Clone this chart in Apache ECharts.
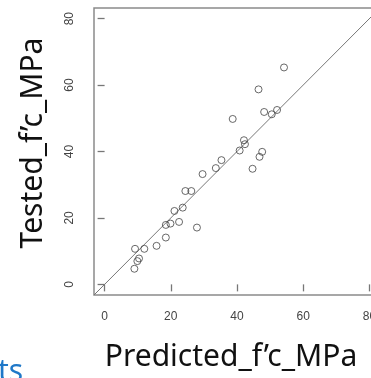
<!DOCTYPE html>
<html>
<head>
<meta charset="utf-8">
<script src="https://cdn.jsdelivr.net/npm/echarts@6/dist/echarts.min.js"></script>
<style>
  html, body { margin: 0; padding: 0; background: #fff; }
  #chart { width: 371px; height: 378px; }
</style>
</head>
<body>
<div id="chart"></div>
<script>
// predicted vs tested compressive strength (MPa)
const predicted = [54.2, 46.5, 38.7, 48.2, 50.5, 52.1, 42.1, 42.4, 40.8, 47.6,
  46.8, 44.7, 35.3, 33.6, 29.6, 24.4, 26.2, 23.6, 21.1, 22.5,
  18.5, 19.9, 27.9, 18.5, 15.7, 12.0, 9.2, 10.4, 9.9, 9.0];
const tested = [65.3, 58.7, 49.8, 51.9, 51.2, 52.5, 43.4, 42.2, 40.3, 39.9,
  38.4, 34.8, 37.4, 35.0, 33.2, 28.1, 28.1, 23.1, 22.1, 18.8,
  17.9, 18.3, 17.1, 14.1, 11.6, 10.7, 10.7, 7.8, 7.0, 4.7];
const tickValues = [0, 20, 40, 60, 80];
const axisMin = -3.2;
const axisMax = 83.2;
// y = x reference line runs across the whole axis range
const refLine = [axisMin, axisMax];

const chart = echarts.init(document.getElementById("chart"));

const axisCommon = {
  type: "value",
  min: axisMin,
  max: axisMax,
  axisLine: { show: false },
  splitLine: { show: false },
  axisTick: {
    show: true,
    inside: false,
    length: 7,
    customValues: tickValues,
    lineStyle: { color: "#777", width: 1.3 }
  },
  axisLabel: {
    customValues: tickValues,
    color: "#444",
    fontFamily: "Liberation Sans",
    fontSize: 12
  }
};

chart.setOption({
  animation: false,
  backgroundColor: "#fff",
  grid: {
    left: 94, top: 8, width: 286, height: 287,
    outerBoundsMode: "none",
    containLabel: false,
    show: true, borderColor: "#8a8a8a", borderWidth: 1.5,
    backgroundColor: "transparent"
  },
  xAxis: Object.assign({}, axisCommon, {
    axisLabel: Object.assign({}, axisCommon.axisLabel, { margin: 16 })
  }),
  yAxis: Object.assign({}, axisCommon, {
    axisLabel: Object.assign({}, axisCommon.axisLabel, { margin: 18, rotate: 90 })
  }),
  graphic: [
    {
      type: "text", x: 33, y: 143, rotation: Math.PI / 2,
      style: { text: "Tested_f’c_MPa", font: "30px 'Noto Sans'", fill: "#111", align: "center", verticalAlign: "middle" }
    },
    {
      type: "text", x: 231, y: 357,
      style: { text: "Predicted_f’c_MPa", font: "30px 'Noto Sans'", fill: "#111", align: "center", verticalAlign: "middle" }
    },
    {
      type: "text", x: -2, y: 372,
      style: { text: "ts", font: "30px 'Noto Sans'", fill: "#1f78c8", align: "left", verticalAlign: "middle" }
    }
  ],
  series: [
    {
      type: "line",
      data: refLine.map(v => [v, v]),
      symbol: "none",
      clip: true,
      lineStyle: { color: "#777", width: 1 },
      z: 1
    },
    {
      type: "scatter",
      data: predicted.map((p, i) => [p, tested[i]]),
      symbol: "circle",
      symbolSize: 7,
      itemStyle: { color: "rgba(0,0,0,0)", borderColor: "#444", borderWidth: 1 },
      z: 2
    }
  ]
});
</script>
</body>
</html>
